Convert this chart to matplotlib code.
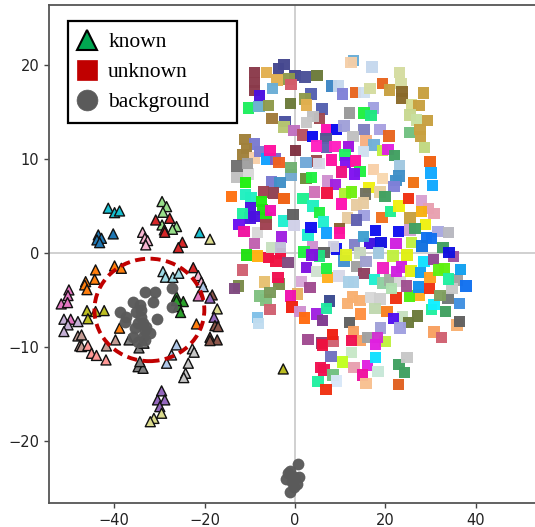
import matplotlib
matplotlib.use('Agg')
import matplotlib.pyplot as plt
from matplotlib.lines import Line2D
from matplotlib.patches import Ellipse

known_x = [-41.3,-39.9,-38.8, -43.5,-42.8,-43.8,-43.2,-40.2, -21.1, -18.8,
           -29.4,-28.4,-29.2,-29.4,-26.2,-27.1, -30.8,-27.7,-28.9,-28.8,-24.9,-25.8,
           -33.7,-33.2,-32.6,-33.0, -44.1,-44.3,-46.3,-46.5,-46.0,-39.9,-38.4,-38.8,-21.8,
           -29.2,-28.65,-27.0,-25.7, -22.5, -21.4,-20.7, -20.3, -21.4,
           -26.2,-24.7,-25.8,-25.3,-26.2, -18.3,-18.8, -17.2,-17.9, -17.7,-17.0, -18.8,-17.2,-18.8,
           -50.0,-50.2,-51.7,-50.3, -51.1,-49.6,-50.2,-48.0,-51.1,
           -46.0,-44.1,-42.2,-45.8, -48.0,-47.2,-47.6,-47.2,-41.7,-39.7,
           -45.8,-45.0,-43.9,-41.8, -36.7,-34.5,-33.4,-34.7,-33.6,-34.3,
           -22.7,-22.3,-23.6,-24.2,-24.6, -26.2,-27.3,-28.4,
           -29.5,-30.4,-28.8,-29.9, -29.5,-31.2,-32.0, -2.6]
known_y = [4.76,4.29,4.47, 1.92,1.56,1.39,1.1,2.03, 2.17, 1.46,
           5.47,4.93,4.33,2.98,2.81,2.52, 3.51,3.69,2.45,2.2,1.14,0.57,
           2.2,1.57,1.32,0.86, -1.8,-2.8,-3.05,-3.4,-3.9,-1.38,-1.63,-8.0,-7.55,
           -1.98,-2.58,-2.6,-2.16, -1.56, -2.41,-3.1, -3.58, -4.57,
           -4.64,-5.17,-5.71,-6.33,-5.07, -4.46,-4.8, -5.95,-6.84, -7.73,-7.83, -8.97,-9.25,-9.32,
           -3.93,-4.53,-5.42,-5.28, -7.05,-7.05,-7.65,-7.3,-8.36,
           -6.13,-6.23,-6.13,-7.0, -8.83,-8.72,-9.89,-9.96,-9.89,-9.25,
           -9.85,-10.67,-10.9,-11.38, -9.25,-10.1,-9.6,-12.1,-12.27,-11.56,
           -10.2,-10.56,-11.73,-12.8,-13.26, -9.78,-10.85,-11.73,
           -14.67,-15.63,-15.63,-16.35, -17.05,-17.6,-17.95, -12.34]
known_colors = (['#17becf']*3 + ['#1f77b4']*5 + ['#17becf','#dbdb8d']
                + ['#98df8a']*6 + ['#d62728']*6 + ['#f7b6d2']*4
                + ['#ff7f0e']*9 + ['#9edae5']*4 + ['#d62728'] + ['#f7b6d2']*2 + ['#aec7e8','#e377c2']
                + ['#2ca02c']*5 + ['#8c564b','#9467bd','#dbdb8d','#9467bd'] + ['#8c564b']*2 + ['#8c564b']*3
                + ['#e377c2']*4 + ['#c5b0d5','#e377c2','#c5b0d5','#c5b0d5','#c5b0d5']
                + ['#bcbd22']*4 + ['#c49c94']*6 + ['#ff9896']*4 + ['#7f7f7f']*6
                + ['#c7c7c7']*5 + ['#aec7e8']*3 + ['#9467bd']*4 + ['#dbdb8d']*3 + ['#bcbd22'])

background_x = [-33.07,-31,-31.4,-27.3,-27.3,-35.8,-34.3,-38.75,-37.4,-37.6,-35.1,-34,-33.6,-30.6,-35.4,
                -33.2,-32.1,-35.8,-33.6,-34.7,-33.2,-34,-32.9,-34.7,
                0.66,-1.1,-1.46,-2,0.8,-0.3,0.43,-1.1,-0.7,-0.3]
background_y = [-4.18,-4.11,-5.17,-3.68,-5.7,-5.17,-5.53,-6.24,-6.77,-7.3,-6.24,-6.77,-7.48,-7.02,-8,
                -8.19,-8.54,-8.9,-8.9,-9.43,-9.25,-6.06,-7.83,-7.48,
                -22.47,-23.15,-23.45,-24.06,-23.8,-23.8,-24.6,-25.4,-24.35,-24.9]

unknown = """12.9 20.46 #6aaed6|12.4 20.25 #f5cfa8|17 19.8 #c5d8ee|23.1 19.2 #d5dca0|23.4 18.05 #d5dca0
-2.4 20.07 #45478f|-3.7 19.57 #45478f|-6.3 19.2 #e2b04f|-9 19.2 #8a3a4a|-4 18.4 #e2b04f
-8.9 18.15 #8a3a4a|0 18.9 #45478f|2.2 18.7 #4a5098|4.9 18.9 #6b7a3a|-1.3 18.5 #8f9a4a
-0.9 17.9 #d45a6a|-5 17.5 #6aaed6|-9 17.3 #8a3a4a|-7.9 16.7 #4a0ee0|8.1 17.77 #3d86c6
9.6 17.77 #c5d8ee|13.4 17.1 #e8641e|10.5 16.9 #8080d8|15.3 17.1 #d0e0f0|16.6 17.5 #d5dca0
19.3 18.05 #e8641e|20.9 17.34 #c8a040|23.7 17.16 #8a6a2a|23.7 16.45 #8a6a2a|28.4 17 #c8a040
3.5 16.9 #5560b0|2.2 16.4 #8f9a4a|-10.3 15.4 #1eef5e|-8 15.6 #6ab0d0|-5.8 15.7 #8f9a4a
-1 15.9 #6b7a3a|2.6 15.75 #e2b04f|6 15.3 #5560b0|25.8 15.75 #d5dc90|27.4 15.7 #c8a040
25.4 14.7 #c8d890|-5.1 14.3 #a07a3a|-2.2 14 #4a50a0|-2.4 13.4 #b8c870|5.4 14.3 #a04a50
4 14.5 #c0c0c0|2.6 13.9 #c8c8c8|12.1 14.9 #999999|17.4 15.4 #a0a0e0|15.3 14.9 #20f040
16.8 14.6 #1ee880|29.3 14.1 #c8a040|26.9 14.15 #c8e0a0|-0.2 13 #c070c0|1.6 12.55 #b85060
3.9 12.4 #0a0af0|7 13.1 #ff10b0|9.2 13.16 #0a0af0|10.8 13.5 #a0a0d8|15.3 13.16 #8080c0
18.8 13.16 #a8a0e0|20.8 12.45 #e8641e|25.3 12.8 #70c080|27.6 13.16 #c8a040|27.8 12.4 #c8a040
28.6 11.2 #c0d880|-11.1 12.1 #a0803a|-8.9 11.6 #7a7ad0|-10.7 11.1 #a0803a|-11.5 10.4 #a0803a
-8.9 10.1 #f8d0a8|-7.8 10.8 #7a7ad0|-6.3 10 #10a0ff|-4.3 10 #8060c0|-3.5 9.6 #f06020
-5.5 10.9 #ff10a0|0.1 10.9 #803040|6.9 12.2 #505a90|7 11.2 #6060b0|4.8 11.4 #ff20c0
8.8 11.3 #ff20c0|12.8 12.4 #c0c0c0|11.8 11.3 #a010e0|15.7 11.9 #f8b080|17.5 11.5 #70b0d8
15.1 10.8 #d0e0f0|19.4 10.9 #c0f040|20.6 11 #e020e0|22 10.35 #40a060|4.8 9.8 #a04a50
2.4 9.6 #70a8d8|5.3 9.5 #d8d8e8|11.1 10.4 #20f060|8.1 9.9 #ff10a0|11.2 9.65 #8010f0
13.4 9.8 #ff10a0|29.9 9.75 #f06010|-0.9 8.3 #70a8d0|-0.9 9.1 #70b070|23.1 9.25 #a0c8e0
30.1 8.5 #10a8ff|30.4 7.2 #10a8ff|23 8.2 #4090c8|22.3 7.7 #4090c8|21.9 7.05 #8080d8
26.2 7.5 #f07010|17.3 8.9 #f8d0a8|19.4 7.9 #f8d8b0|14.4 8.65 #20f040|10.3 8.6 #f01080
13.1 8.4 #8010f0|2.4 7.9 #6b8a3a|3.7 8 #20f040|-12.8 8.1 #c0c0c0|-10.3 8.4 #d8d8d8
-12.8 9.25 #707070|-10.5 9.5 #a0a0a0|-11 7.5 #20f010|-5.2 7.6 #7a7ad0|-3.3 7.5 #4090c8
7.2 7.66 #d090d0|9 7.3 #a020e0|4.3 6.5 #d070b8|7.1 6.4 #f01040|11.1 6.3 #b0f030
12.5 6.5 #70f010|16.4 6.95 #f0f010|15.6 6.25 #707060|18.8 6.5 #e8d0a0|19.9 6 #40a060
-7 6.5 #a04050|-4.8 6.4 #904050|-2.4 5.8 #f06010|-14 6 #ff7010|-11 6.2 #20f0c0
-9.7 5.9 #20f0c0|-7.4 5.5 #20f010|1.8 5.8 #20f090|4 5 #20f0c0|5.4 4.3 #20f040
10.3 5.2 #ff10b0|13.6 5.1 #e8cca0|15.1 5.3 #e8cca0|11.6 3.7 #e8cca0|15.3 4 #a0a0e0
13.6 3.5 #6060b0|19.2 3.8 #f07020|21.1 4.4 #20f090|23 5 #f0f010|25.1 5.8 #f03010
28 5.6 #d8a0d0|29.5 4.75 #e8a0b0|30.7 4.2 #e8a0b0|28 4.4 #f8b010|25.4 3.7 #c8a040
28.8 3 #f0f010|-7.2 4.6 #20e010|-6.4 3.8 #20e010|-9.8 4.8 #4a10e0|-8.9 3.9 #4a10e0
-10 3.7 #4a10e0|-5.4 4.5 #f010b0|-11.6 4.2 #20f0a0|-12.4 3 #6a10f0|-11.3 2.3 #f010a0
-8.3 2.2 #d8d8d8|-6.4 3 #a04050|-2.5 3.4 #20f0d0|-0.4 4.1 #606060|-0.2 2.9 #d0d0e8
2.9 1.9 #20f0d0|3.5 2.7 #1010f0|6.3 3.3 #20f0d0|7 2.1 #10a0ff|9.9 2.6 #8a6030
9.9 2.1 #ff10a0|-3 1.7 #a020e0|-9 1 #c060b0|-10.7 -0.2 #20e010|-8.3 -0.3 #ffb010
-5.8 -0.5 #f01040|-4.2 -0.85 #f01040|-3.2 -0.03 #f01040|-1.5 -1 #804a80|-5.2 0.57 #c8e0c0
-3.2 0.57 #c0c0d8|-11.6 -1.8 #d06070|-12.5 -3.5 #7a8a4a|-13.4 -3.8 #804a80|-6.8 -3.1 #e8c070
-3.5 -3.3 #7a8a4a|-3.8 -2.6 #f01050|-7.8 -4.6 #80c080|-6.4 -5 #80c080|-5.5 -4.2 #7a9a5a
-5.5 -6 #d06070|-8.3 -6.84 #80c0e8|-8.1 -7.5 #c0dcf0|0.5 -4.36 #e8b060|-1 -4.6 #f010b0
-0.7 -5.74 #f02010|1.4 -3.05 #d8a8d8|3.3 -3.7 #a04a90|1.1 -6.24 #d090d0|2.1 -6.9 #ff6a10
4.9 -6.5 #a020e0|7.6 -5.1 #3a4a90|7 -5.9 #20e8a0|6.1 -7.2 #803a90|2.9 -9.2 #a04a90
5.9 -9.6 #903a70|6.1 -9.8 #f01040|8.5 -9.4 #d06070|8.3 -8.7 #f02010|12.1 -7.4 #606060
14.5 -6.5 #ff9040|11.6 -5.4 #f8b070|12.7 -4.7 #f8b070|14.4 -5.07 #f8b070|16.7 -4.75 #d8d8d8
18.8 -4.9 #d0d0d0|17.7 -5.9 #c0d8b0|20.3 -6.2 #f88020|22.3 -4.8 #f03010|27.4 -4.47 #ffb020
25.3 -4.6 #50f010|30.2 -6 #20f0a0|30.7 -5.5 #10f0ff|33.3 -6.2 #40a060|33.8 -4.8 #707878
35.8 -7.66 #f8b070|36.4 -5.35 #4090e0|36.4 -7.27 #606060|23.8 -6.8 #c8e0c0|25.1 -7.4 #6b7a3a
27.1 -6.7 #6b7a3a|21.8 -7 #5010f0|23.2 -8 #a0a0e0|18.9 -8 #a0a0d8|12.9 -8.4 #f8a060
14.5 -9.3 #f8a060|12.5 -9.3 #f01050|16.1 -9 #a0a0a0|19.9 -9.4 #c0f040|18.2 -9 #d030d0
17.8 -9.75 #e020e0|30.7 -8.4 #f8a060|32.4 -9 #d06070|12.5 -10.6 #c8e8c8|8 -11 #7070c0
10.5 -11.6 #c0ff20|5.6 -12.2 #f01050|6.4 -12.45 #f01050|8.4 -13 #70c080|9.2 -13.6 #d8e8f8
5.1 -13.7 #20f0a0|6.9 -14.5 #f03010|13 -12.2 #e8a0b0|16 -12 #e020e0|14.9 -13 #f010a0
17.8 -11.1 #10e0ff|18.4 -12.6 #c8e8d8|15.7 -13.9 #f8c090|23 -11.85 #40a060|24.2 -12.7 #40a060
24.8 -11.1 #c8c8c8|22.9 -14 #e06020|9.2 0.4 #1010f0|8.5 0.67 #d0d0e0|13.1 0.85 #8080c8
16.6 1 #4010e0|19 1.1 #1010e0|15.1 1.74 #40a0d0|17.8 2.4 #1010f0|22.9 2.3 #1010f0
22.3 1 #d020e0|25.8 1.1 #c0f040|25.4 2.45 #d0a0d0|26.5 2.6 #40a060|31.6 2.3 #a8a8e0
34 2.2 #b8b8c0|29.1 1.67 #1070f0|30.2 1.56 #1070f0|28.1 0.75 #1070e0|32.7 0.6 #40a060
35 -0.4 #a050a0|34.1 0.07 #1010e0|18.5 0 #a0c8e0|21.7 -0.3 #c0f040|24.8 -0.2 #e0f010
10.8 -0.85 #4090d0|11.3 -0.2 #e0f020|6.4 0.07 #606060|5.4 -0.3 #20e080|3.9 0.67 #d090d0
2 0.1 #20f040|3.8 -0.2 #8010e0|2.5 -1.56 #8010e0|4.8 -2 #d0e0d0|7.2 -2.6 #ffb020
7 -1.63 #20f040|9.7 -2.45 #d8d8e8|14.4 0 #c8d8c0|13.6 -1.45 #a0a0a0|15.7 -0.9 #a0a0d0
15.3 -2.2 #904060|12.9 -3.1 #a8d0e8|11.8 -3.1 #a8d0e8|17.6 -2.8 #20f0d0|19.5 -3.2 #90d0a0
19.5 -1.6 #f020c0|21 -2.87 #a0b0a0|23.2 -3.05 #d8d8d8|21.4 -3.76 #b0e0b0|24.7 -3.5 #a05090
22.5 -2 #d020e0|23.6 -1.5 #d020e0|25.7 -1.9 #e0f010|27.7 -2.06 #10a0f0|28.5 -0.9 #10e0ff
30.6 -0.67 #904a90|29.9 -2.6 #ffa020|27.3 -3.6 #1090f0|29.8 -3.76 #f03010|31.7 -1.8 #60f010
33 -1.63 #60f010|32.1 -4.5 #80a060|35.8 -2.87 #a0a0a0|34.7 -3.76 #c8c8c8|34 -2.76 #20f0a0
36.6 -1.77 #10a0f0|37.8 -3.5 #1070f0"""
rows = [r.split() for r in unknown.replace('\n', '|').split('|')]
unknown_x = [float(r[0]) for r in rows]
unknown_y = [float(r[1]) for r in rows]
unknown_colors = [r[2] for r in rows]

W, H = 535, 527
fig = plt.figure(figsize=(W/100, H/100), dpi=100)
ax = fig.add_axes([49/W, (H-503)/H, (541-49)/W, (503-5)/H])
ax.set_xlim(-54.4, 54.4)
ax.set_ylim(-26.6, 26.38)
ax.axhline(0, color='#c8c8c8', lw=1.2, zorder=1)
ax.axvline(0, color='#c8c8c8', lw=1.2, zorder=1)

ax.scatter(unknown_x, unknown_y, s=68, marker='s', c=unknown_colors, linewidths=0, alpha=0.97, zorder=2)
ax.scatter(known_x, known_y, s=52, marker='^', c=known_colors, edgecolors='#111111', linewidths=1.0, zorder=3)
ax.scatter(background_x, background_y, s=72, marker='o', c='#5a5a5a', linewidths=0, alpha=0.97, zorder=4)
ax.add_patch(Ellipse((-32.2, -6.06), 24.3, 10.9, fill=False, ec='#c00000', lw=2.8,
                     linestyle=(0, (2.6, 1.4)), zorder=5))

ax.set_xticks([-40, -20, 0, 20, 40])
ax.set_yticks([-20, -10, 0, 10, 20])
ax.tick_params(labelsize=10.5, color='#444444', labelcolor='#222222', width=1)
for s in ax.spines.values():
    s.set_color('#555555')
    s.set_linewidth(1.3)

handles = [
    Line2D([], [], ls='', marker='^', ms=15, mfc='#00a651', mec='black', mew=1.5),
    Line2D([], [], ls='', marker='s', ms=14, mfc='#c00000', mec='#c00000', mew=0.5),
    Line2D([], [], ls='', marker='o', ms=15, mfc='#5a5a5a', mec='#5a5a5a', mew=0.5),
]
leg = ax.legend(handles, ['known', 'unknown', 'background'], loc='upper left',
                bbox_to_anchor=(68/W, 1-123/H, 169/W, 102/H), bbox_transform=fig.transFigure,
                mode='expand', prop={'family': 'Liberation Serif', 'size': 15.5}, frameon=True,
                fancybox=False, edgecolor='black', framealpha=1, borderaxespad=0, labelspacing=0.46,
                handletextpad=0.6, borderpad=0.52, handlelength=0.75)
leg.get_frame().set_linewidth(1.6)
leg.set_zorder(10)

fig.savefig('out.png', dpi=100)
